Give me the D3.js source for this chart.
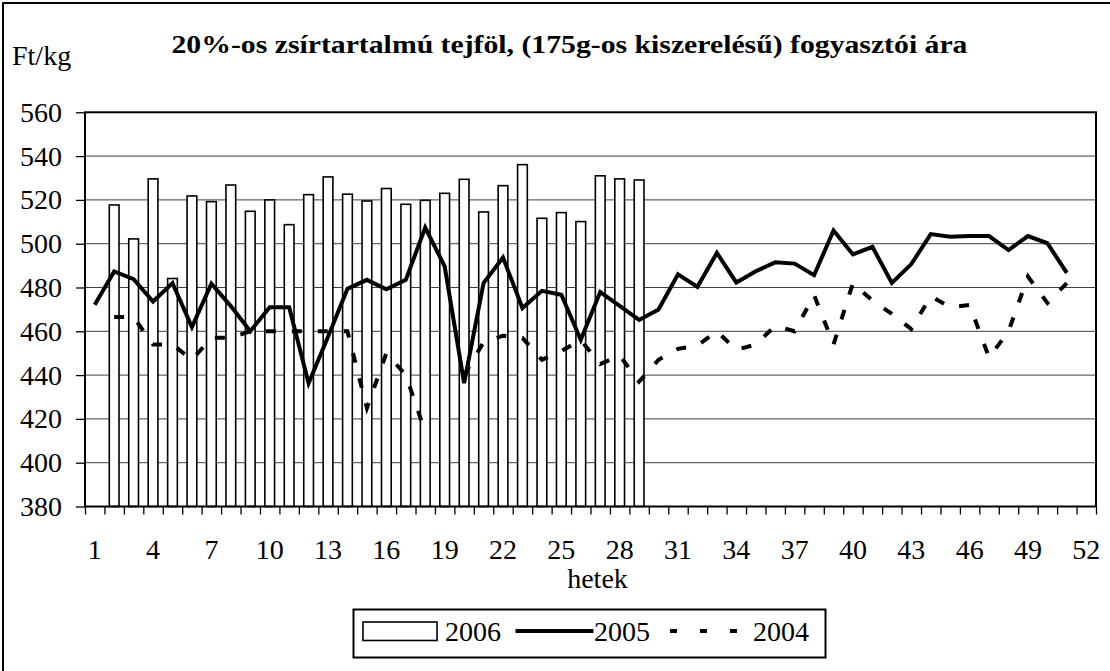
<!DOCTYPE html>
<html>
<head>
<meta charset="utf-8">
<script src="https://cdn.jsdelivr.net/npm/d3@7"></script>
<style>
  body { margin: 0; background: #fff; }
  svg text { font-family: "Liberation Serif", "Tinos", "Times New Roman", "DejaVu Serif", serif !important; fill: #000; }
  .grid line { stroke: #404040; stroke-width: 1; }
  .axis path, .axis line { stroke: #000; stroke-width: 1.3; }
</style>
</head>
<body>
<div id="chart"></div>
<script>
// weeks (categories)
const weeks = [1, 2, 3, 4, 5, 6, 7, 8, 9, 10, 11, 12, 13, 14, 15, 16, 17, 18, 19, 20, 21, 22, 23, 24, 25, 26,
    27, 28, 29, 30, 31, 32, 33, 34, 35, 36, 37, 38, 39, 40, 41, 42, 43, 44, 45, 46, 47, 48, 49, 50, 51, 52];
const week_labels = [1, 4, 7, 10, 13, 16, 19, 22, 25, 28, 31, 34, 37, 40, 43, 46, 49, 52];
const y_ticks = [380, 400, 420, 440, 460, 480, 500, 520, 540, 560];

// 2006 - bars
const v2006 = [null, 517.7, 502.2, 529.6, 484.1, 521.8, 519.2, 526.8, 514.8, 520, 508.7, 522.4, 530.5, 522.6,
    519.5, 525.2, 518, 519.8, 523, 529.4, 514.5, 526.5, 536.1, 511.6, 514.2, 510.1, 531, 529.6, 529.1,
    null, null, null, null, null, null, null, null, null, null, null, null, null, null, null, null, null,
    null, null, null, null, null, null];
// 2005 - solid line
const v2005 = [472.1, 487.3, 483.8, 473.6, 482, 461.9, 481.7, 471.5, 460, 471, 471, 436.3, 457.5, 479.4,
    483.5, 479.2, 483.5, 507.4, 489.6, 436.3, 482, 493.7, 470.6, 478.5, 476.7, 456.1, 477.9, 471.6, 465.2,
    470, 486, 480.3, 495.8, 482.3, 487.4, 491.5, 490.9, 485.6, 506, 495.1, 498.6, 482.1, 490.7, 504.4,
    503.2, 503.5, 503.5, 497.1, 503.5, 500.2, 486.7, null];
// 2004 - dashed line
const v2004 = [null, 466.5, 466.5, 454, 454, 447, 457, 457, 460, 460, 460, 460, 460, 460, 425, 450, 440, 414,
    null, 440, 455, 458, 457, 447, 451, 456, 445, 449, 437, 447, 452, 453.5, 460, 451.5, 454, 462.5, 460,
    476.5, 454, 482, 474, 468, 461, 476, 471, 472, 448, 460, 485, 473, 482, null];

const serif = "'Liberation Serif', Tinos, 'Times New Roman', 'DejaVu Serif', serif";

// plot area
const margin = { top: 112.3, right: 14, bottom: 164.5, left: 85 };
const W = 1110, H = 671;
const width = W - margin.left - margin.right;
const height = H - margin.top - margin.bottom;

const root = d3.select("#chart")
    .append("svg")
    .attr("width", W)
    .attr("height", H)
    .attr("font-family", serif);

// outer frame
root.append("rect")
    .attr("x", 3).attr("y", 3)
    .attr("width", 1120).attr("height", 700)
    .attr("fill", "none").attr("stroke", "#000").attr("stroke-width", 2);

const svg = root.append("g")
    .attr("transform", `translate(${margin.left}, ${margin.top})`);

// scales
const x = d3.scaleBand().domain(weeks).range([0, width]);
const x_edges = d3.scaleLinear().domain([0, weeks.length]).range([0, width]);
const y = d3.scaleLinear().domain([380, 560]).range([height, 0]);

// grid lines
svg.append("g")
    .attr("class", "grid")
    .selectAll("line")
    .data(y_ticks.slice(1, -1))
    .join("line")
    .attr("x1", 0).attr("x2", width)
    .attr("y1", d => y(d)).attr("y2", d => y(d));

// 2006 bars
const bw = x.bandwidth() * 0.5;
svg.append("g")
    .selectAll("rect")
    .data(weeks.map((w, i) => ({ w: w, v: v2006[i] })).filter(d => d.v != null))
    .join("rect")
    .attr("x", d => x(d.w) + (x.bandwidth() - bw) / 2)
    .attr("y", d => y(d.v))
    .attr("width", bw)
    .attr("height", d => y(380) - y(d.v))
    .attr("fill", "#fff")
    .attr("stroke", "#000")
    .attr("stroke-width", 1.6);

// lines
const line = d3.line()
    .defined(d => d.v != null)
    .x(d => x(d.w) + x.bandwidth() / 2)
    .y(d => y(d.v));

svg.append("path")
    .datum(weeks.map((w, i) => ({ w: w, v: v2004[i] })))
    .attr("fill", "none")
    .attr("stroke", "#000")
    .attr("stroke-width", 4)
    .attr("stroke-dasharray", "10,16")
    .attr("d", line);

svg.append("path")
    .datum(weeks.map((w, i) => ({ w: w, v: v2005[i] })))
    .attr("fill", "none")
    .attr("stroke", "#000")
    .attr("stroke-width", 4)
    .attr("stroke-linejoin", "miter")
    .attr("d", line);

// plot border
svg.append("rect")
    .attr("width", width).attr("height", height)
    .attr("fill", "none").attr("stroke", "#000").attr("stroke-width", 2);

// Y axis
svg.append("g")
    .attr("class", "axis")
    .call(d3.axisLeft(y).tickValues(y_ticks).tickSize(9).tickPadding(14))
    .call(g => g.select(".domain").remove())
    .call(g => g.attr("font-family", serif))
    .selectAll("text")
    .style("font-size", "28px");

// X axis: ticks at category edges, labels every 3rd week
svg.append("g")
    .attr("class", "axis")
    .attr("transform", `translate(0, ${height})`)
    .call(d3.axisBottom(x_edges).tickValues(d3.range(weeks.length + 1)).tickSize(8).tickFormat(""))
    .call(g => g.select(".domain").remove());

svg.append("g")
    .attr("class", "axis")
    .attr("transform", `translate(0, ${height})`)
    .call(d3.axisBottom(x).tickValues(week_labels).tickSize(0).tickPadding(33))
    .call(g => g.select(".domain").remove())
    .call(g => g.attr("font-family", serif))
    .selectAll("text")
    .style("font-size", "28px");

// x label
root.append("text")
    .attr("x", 597.5).attr("y", 587.5)
    .attr("text-anchor", "middle")
    .style("font-size", "28px")
    .text("hetek");

// unit label
root.append("text")
    .attr("x", 12).attr("y", 64.5)
    .style("font-size", "28px")
    .text("Ft/kg");

// title
root.append("text")
    .attr("x", 171.5).attr("y", 52.5)
    .attr("textLength", 796)
    .attr("lengthAdjust", "spacingAndGlyphs")
    .style("font-size", "26px")
    .style("font-weight", "bold")
    .text("20%-os zsírtartalmú tejföl, (175g-os kiszerelésű) fogyasztói ára");

// legend
const lg = root.append("g");
lg.append("rect")
    .attr("x", 353.5).attr("y", 609.5).attr("width", 472).attr("height", 48)
    .attr("fill", "#fff").attr("stroke", "#000").attr("stroke-width", 2);
lg.append("rect")
    .attr("x", 363).attr("y", 622).attr("width", 74).attr("height", 18.5)
    .attr("fill", "#fff").attr("stroke", "#000").attr("stroke-width", 1.6);
lg.append("text").attr("x", 445).attr("y", 640.5).style("font-size", "28px").text("2006");
lg.append("line")
    .attr("x1", 515.5).attr("x2", 593.5).attr("y1", 631).attr("y2", 631)
    .attr("stroke", "#000").attr("stroke-width", 4);
lg.append("text").attr("x", 594).attr("y", 640.5).style("font-size", "28px").text("2005");
lg.append("line")
    .attr("x1", 670).attr("x2", 738).attr("y1", 631).attr("y2", 631)
    .attr("stroke", "#000").attr("stroke-width", 4)
    .attr("stroke-dasharray", "7,23");
lg.append("text").attr("x", 753).attr("y", 640.5).style("font-size", "28px").text("2004");
</script>
</body>
</html>
